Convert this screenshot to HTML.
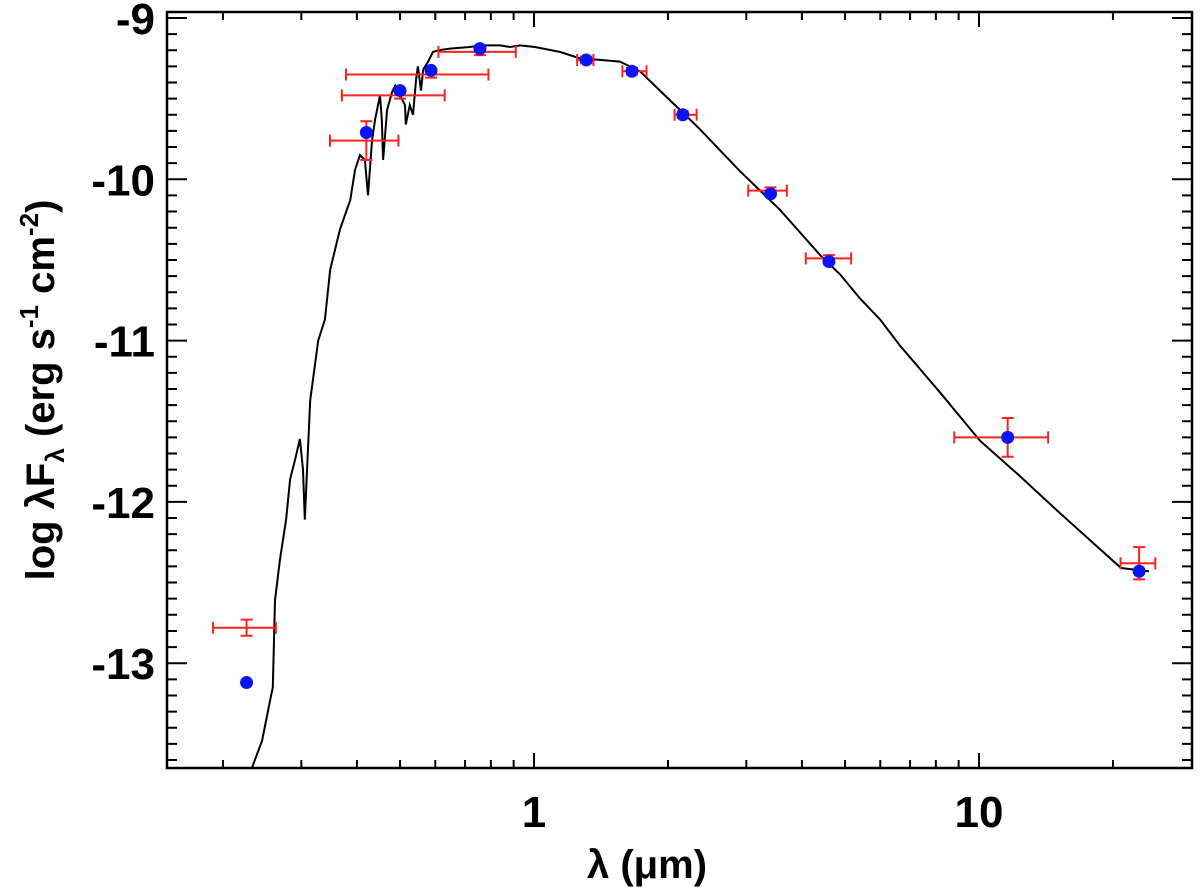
<!DOCTYPE html>
<html><head><meta charset="utf-8"><style>
html,body{margin:0;padding:0;background:#fff;}
svg{display:block;font-family:"Liberation Sans",Arial,sans-serif;}
</style></head><body>
<svg id="chart" width="1200" height="896" viewBox="0 0 1200 896" xmlns="http://www.w3.org/2000/svg">
<g id="marks"></g>
<text x="647" y="878" text-anchor="middle" font-size="40" font-weight="bold">λ (μm)</text>
<text transform="translate(54,390) rotate(-90)" text-anchor="middle" font-size="40" font-weight="bold">log λF<tspan font-size="26" dy="10">λ</tspan><tspan dy="-10"> (erg s</tspan><tspan font-size="26" dy="-16">-1</tspan><tspan dy="16"> cm</tspan><tspan font-size="26" dy="-16">-2</tspan><tspan dy="16">)</tspan></text>
</svg>
<script>
const yTicks = [-9, -10, -11, -12, -13];
const yTickLabels = ["-9", "-10", "-11", "-12", "-13"];
const xMajorTicks = [1, 10];
const xTickLabels = ["1", "10"];
const xMinorTicks = [0.2,0.3,0.4,0.5,0.6,0.7,0.8,0.9,2,3,4,5,6,7,8,9,20];
const modelLogLam = [-0.634,-0.611,-0.593,-0.587,-0.582,-0.571,-0.557,-0.548,-0.537,-0.526,-0.519,-0.515,-0.503,-0.485,-0.470,-0.458,-0.436,-0.413,-0.402,-0.391,-0.380,-0.373,-0.364,-0.357,-0.346,-0.342,-0.339,-0.330,-0.319,-0.312,-0.301,-0.290,-0.288,-0.279,-0.272,-0.265,-0.261,-0.254,-0.249,-0.238,-0.227,-0.216,-0.189,-0.144,-0.121,-0.076,-0.054,-0.031,0.002,0.058,0.103,0.148,0.193,0.238,0.283,0.328,0.373,0.418,0.463,0.508,0.553,0.598,0.643,0.688,0.733,0.778,0.822,0.912,1.002,1.092,1.182,1.319,1.382];
const modelLogF = [-13.65,-13.48,-13.23,-13.15,-12.61,-12.36,-12.11,-11.86,-11.74,-11.61,-11.80,-12.11,-11.37,-11.00,-10.87,-10.56,-10.31,-10.13,-9.94,-9.85,-9.88,-10.10,-9.76,-9.63,-9.48,-9.63,-9.88,-9.57,-9.46,-9.42,-9.48,-9.54,-9.66,-9.54,-9.60,-9.38,-9.30,-9.45,-9.32,-9.27,-9.21,-9.20,-9.19,-9.18,-9.17,-9.17,-9.18,-9.17,-9.18,-9.21,-9.25,-9.26,-9.27,-9.33,-9.45,-9.57,-9.69,-9.82,-9.95,-10.07,-10.19,-10.33,-10.47,-10.59,-10.74,-10.87,-11.03,-11.32,-11.62,-11.84,-12.07,-12.41,-12.43];
const obsLam = [0.226,0.42,0.50,0.587,0.756,1.31,1.66,2.16,3.4,4.6,11.6,22.9];
const obsLamLo = [0.19,0.348,0.37,0.378,0.61,1.25,1.58,2.07,3.03,4.08,8.8,20.8];
const obsLamHi = [0.263,0.496,0.63,0.79,0.91,1.36,1.79,2.32,3.70,5.16,14.3,24.9];
const obsF = [-12.78,-9.76,-9.48,-9.35,-9.21,-9.26,-9.33,-9.60,-10.07,-10.49,-11.60,-12.38];
const obsFErr = [0.05,0.12,0.02,0.02,0.02,0.02,0.02,0.02,0.02,0.02,0.12,0.10];
const modelPointF = [-13.12,-9.71,-9.45,-9.325,-9.19,-9.26,-9.33,-9.60,-10.09,-10.51,-11.60,-12.43];

const L=167,R=1192,T=12,B=768;
const sx = v => 534 + 445*Math.log10(v);
const sxl = lv => 534 + 445*lv;
const sy = v => 18 + (-9 - v)*161.3;
const NS="http://www.w3.org/2000/svg";
const g=document.getElementById('marks');
function mk(tag,attrs){const e=document.createElementNS(NS,tag);for(const k in attrs)e.setAttribute(k,attrs[k]);g.appendChild(e);return e;}

const defs=mk('defs',{});
const cp=document.createElementNS(NS,'clipPath');cp.setAttribute('id','clip');
const cr=document.createElementNS(NS,'rect');cr.setAttribute('x',L);cr.setAttribute('y',T);cr.setAttribute('width',R-L);cr.setAttribute('height',B-T);
cp.appendChild(cr);defs.appendChild(cp);

let d='';
for(let i=0;i<modelLogLam.length;i++){d+=(i?'L':'M')+sxl(modelLogLam[i]).toFixed(1)+','+sy(modelLogF[i]).toFixed(1);}
const line=mk('path',{d:d,fill:'none',stroke:'#000','stroke-width':2,'clip-path':'url(#clip)'});



for(let i=0;i<obsLam.length;i++){
  const x=sx(obsLam[i]),y=sy(obsF[i]),x1=sx(obsLamLo[i]),x2=sx(obsLamHi[i]),y1=sy(obsF[i]+obsFErr[i]),y2=sy(obsF[i]-obsFErr[i]);
  const eb=mk('path',{d:`M${x1},${y}H${x2}M${x1},${y-6}V${y+6}M${x2},${y-6}V${y+6}M${x},${y1}V${y2}M${x-6},${y1}H${x+6}M${x-6},${y2}H${x+6}`,stroke:'#ff2020','stroke-width':2,fill:'none'});
  
  
}
for(let i=0;i<obsLam.length;i++){
  const c=mk('circle',{cx:sx(obsLam[i]),cy:sy(modelPointF[i]),r:6.5,fill:'#0a14f5'});
  
  
}
const fr=mk('rect',{x:L,y:T,width:R-L,height:B-T,fill:'none',stroke:'#000','stroke-width':2.5});


let td='';
for(let v=-9;v>=-13.65;v=Math.round((v-0.1)*10)/10){
  const y=sy(v);if(y<T||y>B)continue;
  const major=Math.abs(v-Math.round(v))<1e-6, len=major?20:10;
  td+=`M${L},${y}h${len}M${R},${y}h${-len}`;
}
xMinorTicks.forEach(v=>{const x=sx(v);td+=`M${x},${B}v-8M${x},${T}v8`;});
xMajorTicks.forEach(v=>{const x=sx(v);td+=`M${x},${B}v-15M${x},${T}v15`;});
const ticks=mk('path',{d:td,stroke:'#000','stroke-width':2,fill:'none'});


yTicks.forEach((v,i)=>{
  const t=mk('text',{x:155,y:sy(v)+16,'text-anchor':'end','font-size':44,'font-weight':'bold'});
  t.textContent=yTickLabels[i];
  
  
});
xMajorTicks.forEach((v,i)=>{
  const t=mk('text',{x:sx(v),y:827,'text-anchor':'middle','font-size':44,'font-weight':'bold'});
  t.textContent=xTickLabels[i];
  
  
});
</script>
</body></html>
